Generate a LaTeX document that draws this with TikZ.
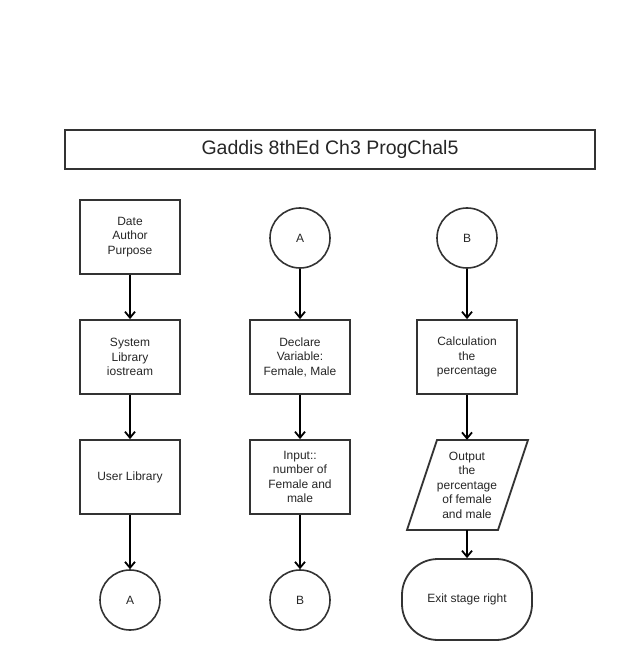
\documentclass[tikz,border=0pt]{standalone}
\usepackage{fontspec}
\setmainfont{Liberation Sans}
\usetikzlibrary{arrows.meta}
\definecolor{edge}{HTML}{333333}
\begin{document}
\begin{tikzpicture}[x=1pt,y=-1pt,
  every node/.style={font=\fontsize{12}{14.5}\selectfont, align=center, text=black!85},
  stepbox/.style={draw=edge, line width=1.8pt, minimum width=100pt, minimum height=74pt, inner sep=2pt},
  conn/.style={draw=edge, line width=1.6pt, circle, minimum size=60pt, inner sep=0pt},
  flow/.style={line width=2pt, draw=black, -{Straight Barb[length=6pt,width=10pt,line width=1.8pt]}},
]
\useasboundingbox (0,0) rectangle (621,660);

% title bar
\node[draw=edge, line width=1.8pt, minimum width=530pt, minimum height=39pt,
      font=\fontsize{19.5}{22}\selectfont] (title) at (330,149.5) {Gaddis 8thEd Ch3 ProgChal5};

% left column
\node[stepbox] (hdr) at (130,237) {Date\\Author\\Purpose};
\node[stepbox] (sys) at (130,357) {System\\Library\\iostream};
\node[stepbox] (usr) at (130,477) {User Library};
\node[conn] (toA) at (130,600) {A};

% middle column
\node[conn] (fromA) at (300,238) {A};
\node[stepbox] (decl) at (300,357) {Declare\\Variable:\\Female, Male};
\node[stepbox] (inp) at (300,477) {Input::\\number of\\Female and\\male};
\node[conn] (toB) at (300,600) {B};

% right column
\node[conn] (fromB) at (467,238) {B};
\node[stepbox] (calc) at (467,357) {Calculation\\the\\percentage};
\draw[draw=edge, line width=1.8pt] (437,440) -- (528,440) -- (498,530) -- (407,530) -- cycle;
\node[minimum width=90pt, minimum height=90pt, inner sep=0pt] (outp) at (467,485)
  {Output\\the\\percentage\\of female\\and male};
\node[draw=edge, line width=1.8pt, rounded corners=36pt, minimum width=130pt, minimum height=81pt] (done) at (467,599.5) {Exit stage right};

% flow lines
\draw[flow] (hdr) -- (sys);
\draw[flow] (sys) -- (usr);
\draw[flow] (usr) -- (toA);
\draw[flow] (fromA) -- (decl);
\draw[flow] (decl) -- (inp);
\draw[flow] (inp) -- (toB);
\draw[flow] (fromB) -- (calc);
\draw[flow] (calc) -- (outp);
\draw[flow] (outp) -- (done);
\end{tikzpicture}
\end{document}
